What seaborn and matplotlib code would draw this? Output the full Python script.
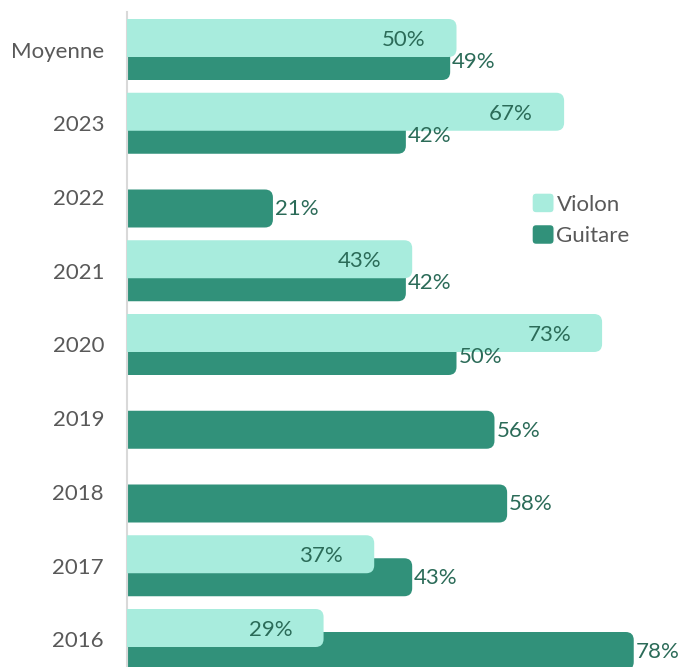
import numpy as np
import pandas as pd
import matplotlib
matplotlib.use("Agg")
import matplotlib.pyplot as plt
import seaborn as sns
from matplotlib.patches import FancyBboxPatch, Patch
from matplotlib.legend_handler import HandlerPatch

categories = ["Moyenne", "2023", "2022", "2021", "2020", "2019", "2018", "2017", "2016"]
violon = [50, 67, np.nan, 43, 73, np.nan, np.nan, 37, 29]
guitare = [49, 42, 21, 42, 50, 56, 58, 43, 78]

C_VIOLON = "#A8ECDD"
C_GUITARE = "#31917A"
C_LABEL = "#2B6B58"
C_TICK = "#595959"

sns.set_theme(style="white")
plt.rcParams["font.family"] = ["Lato", "DejaVu Sans"]

W, H = 681, 667
fig = plt.figure(figsize=(W / 100, H / 100), dpi=100)
ax = fig.add_axes([127 / W, 0, (W - 127) / W, (H - 12) / H])

px_x = 6.33      # pixels per percent
px_y = 73.75     # pixels per category
xmin = -13 / px_x
xmax = (W - 140) / px_x

bar_h = 38 / px_y
off = 11.5 / px_y
r = 8 / px_x
aspect = px_x / px_y
xstart = xmin - 3


def draw(values, color, dy, z):
    df = pd.DataFrame({"cat": categories, "val": values}).dropna()
    before = len(ax.patches)
    sns.barplot(data=df, x="val", y="cat", order=categories, orient="h",
                width=bar_h, color=color, ax=ax, saturation=1, errorbar=None)
    new = ax.patches[before:]
    out = []
    for p in list(new):
        w = p.get_width()
        y0 = p.get_y()
        hh = p.get_height()
        p.remove()
        if not np.isfinite(w):
            continue
        fb = FancyBboxPatch((xstart, y0 + dy), w - xstart, hh,
                            boxstyle=f"round,pad=0,rounding_size={r}",
                            mutation_aspect=aspect, facecolor=color,
                            edgecolor="none", zorder=z, clip_on=True)
        ax.add_patch(fb)
        out.append((w, y0 + dy + hh / 2))
    return out


g_bars = draw(guitare, C_GUITARE, off, 2)
v_bars = draw(violon, C_VIOLON, -off, 3)

ax.set_xlim(xmin, xmax)
ax.set_ylim((H - 49.5) / px_y, (12 - 49.5) / px_y)

for w, yc in g_bars:
    ax.annotate(f"{w:.0f}%", (w, yc), xytext=(2, -1), textcoords="offset pixels",
                ha="left", va="center", color=C_LABEL, fontsize=16, zorder=5,
                annotation_clip=False)
for w, yc in v_bars:
    ax.annotate(f"{w:.0f}%", (w, yc), xytext=(-31, -2), textcoords="offset pixels",
                ha="right", va="center", color=C_LABEL, fontsize=16, zorder=5)

for s in ["top", "right", "bottom"]:
    ax.spines[s].set_visible(False)
ax.spines["left"].set_color("#D9D9D9")
ax.spines["left"].set_linewidth(1.5)
ax.set_xticks([])
ax.set_xlabel("")
ax.set_ylabel("")
ax.tick_params(axis="y", length=0, pad=16.5, labelsize=16, labelcolor=C_TICK)


def rounded_handle(legend, orig_handle, xdescent, ydescent, width, height, fontsize):
    return FancyBboxPatch((-xdescent, -ydescent), width, height,
                          boxstyle="round,pad=0,rounding_size=3")


handles = [Patch(facecolor=C_VIOLON, label="Violon"),
           Patch(facecolor=C_GUITARE, label="Guitare")]
fig.legend(handles=handles, loc="upper left",
           bbox_to_anchor=(532 / W, 1 - 193 / H), frameon=False,
           fontsize=16, labelcolor=C_TICK, handlelength=1.0, handleheight=1.0,
           handletextpad=0.1, labelspacing=0.45, borderpad=0, borderaxespad=0,
           handler_map={Patch: HandlerPatch(patch_func=rounded_handle)})

fig.savefig("out.png", dpi=100)
